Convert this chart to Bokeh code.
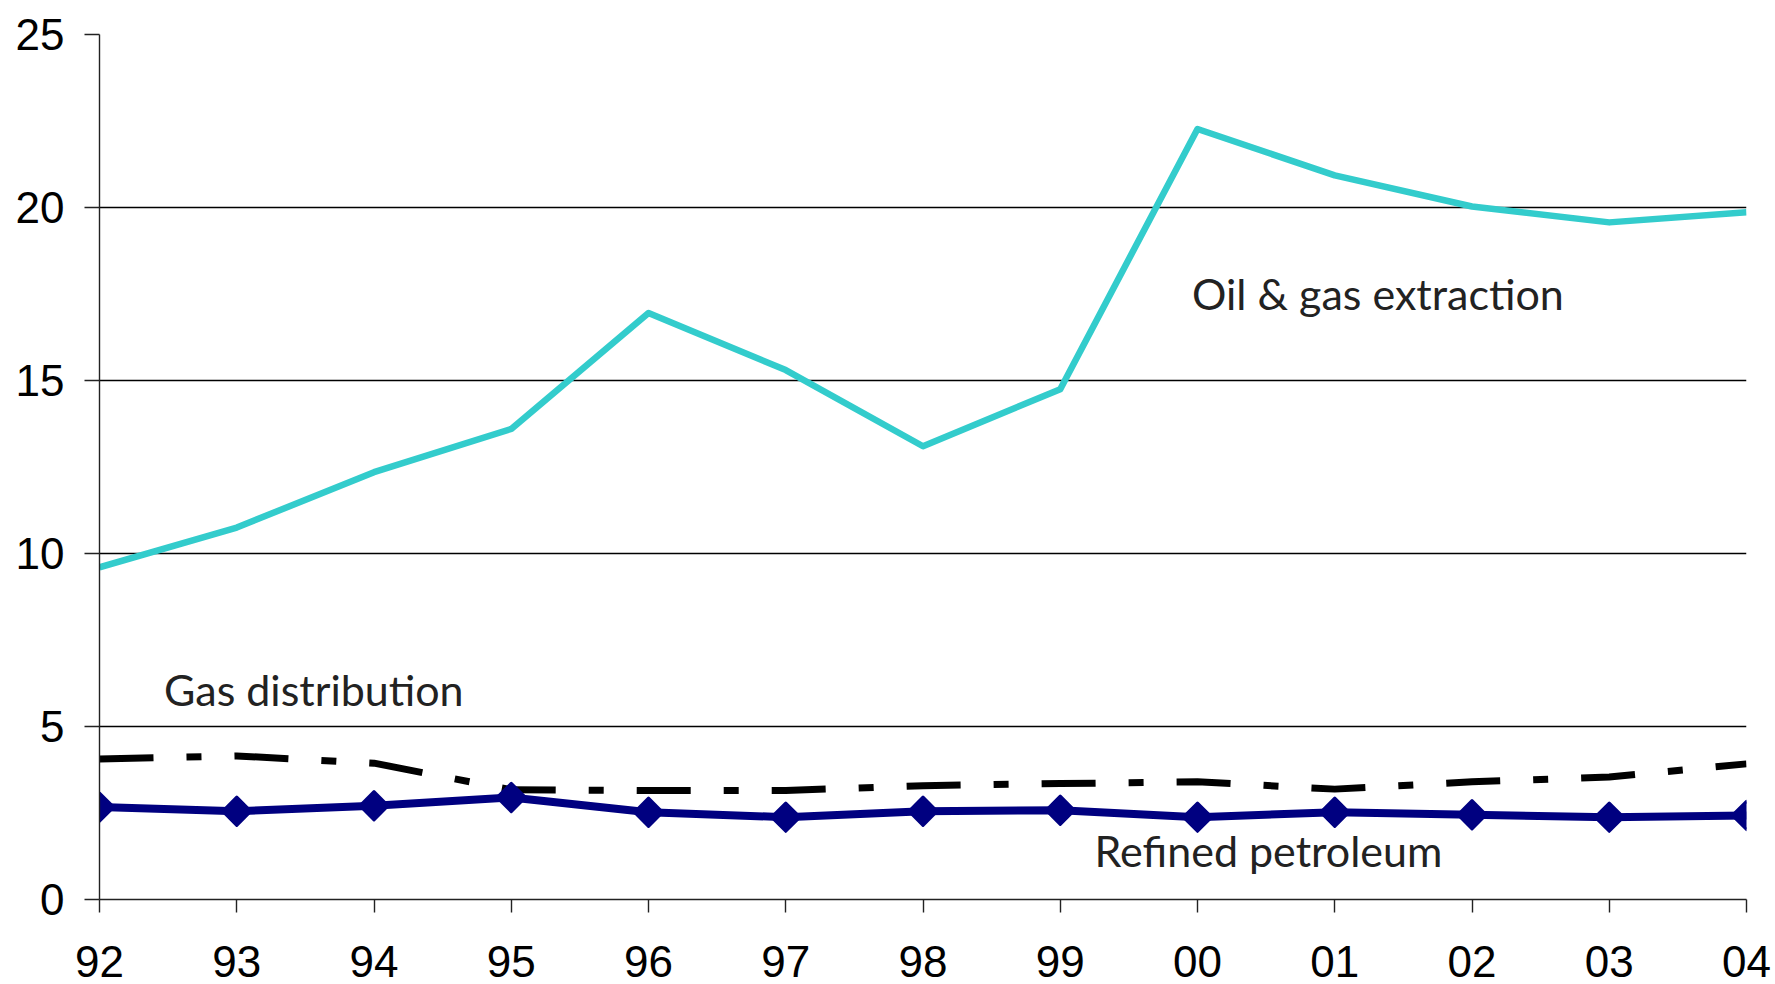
import numpy as np
from bokeh.plotting import figure
from bokeh.models import Range1d, FixedTicker, Label
from bokeh.embed import file_html
from bokeh.resources import INLINE

# ---- data ----
years = [1992, 1993, 1994, 1995, 1996, 1997, 1998, 1999, 2000, 2001, 2002, 2003, 2004]
tick_labels = ["92", "93", "94", "95", "96", "97", "98", "99", "00", "01", "02", "03", "04"]
y_ticks = [0, 5, 10, 15, 20, 25]

oil_gas_extraction = [9.6, 10.75, 12.35, 13.6, 16.95, 15.3, 13.1, 14.75, 22.27, 20.93, 20.03, 19.57, 19.86]
gas_distribution = [4.06, 4.15, 3.94, 3.17, 3.15, 3.15, 3.29, 3.35, 3.40, 3.19, 3.40, 3.54, 3.92]
refined_petroleum = [2.67, 2.55, 2.71, 2.95, 2.52, 2.38, 2.55, 2.58, 2.38, 2.52, 2.45, 2.38, 2.43]

label_names = ["Oil & gas extraction", "Gas distribution", "Refined petroleum"]

# ---- figure ----
p = figure(width=1775, height=984, output_backend="svg", toolbar_location=None,
           x_range=Range1d(1992, 2004), y_range=Range1d(0, 25),
           min_border_left=99, min_border_right=29, min_border_top=34, min_border_bottom=85)
p.outline_line_color = None
p.background_fill_color = "white"
p.border_fill_color = "white"

p.xgrid.visible = False
p.ygrid.grid_line_color = "black"
p.ygrid.grid_line_width = 1.4

p.xaxis.ticker = FixedTicker(ticks=years)
p.xaxis.major_label_overrides = {y: t for y, t in zip(years, tick_labels)}
p.yaxis.ticker = FixedTicker(ticks=y_ticks)

for ax in (p.xaxis[0], p.yaxis[0]):
    ax.axis_line_color = "#222222"
    ax.axis_line_width = 1.4
    ax.major_tick_line_color = "#222222"
    ax.major_tick_line_width = 1.4
    ax.major_tick_in = 0
    ax.minor_tick_line_color = None
    ax.major_label_text_font = "Liberation Sans"
    ax.major_label_text_font_size = "44px"
    ax.major_label_text_color = "black"

p.xaxis.major_tick_out = 13
p.xaxis.major_label_standoff = 33
p.xaxis.major_label_text_line_height = 0.8
p.yaxis.major_tick_out = 15
p.yaxis.major_label_standoff = 20

# ---- series ----
p.line(years, gas_distribution, line_color="black", line_width=7, line_dash="54 33 15 33")
p.line(years, refined_petroleum, line_color="#000080", line_width=8, line_join="round")
p.scatter(years, refined_petroleum, marker="square", angle=np.pi / 4, size=20,
          fill_color="#000080", line_color="#000080", line_width=3, line_join="round")
p.line(years, oil_gas_extraction, line_color="#33CCCC", line_width=6.5, line_join="round")

# ---- series labels ----
label_pos = [(1999.96, 17.52), (1992.47, 6.06), (1999.25, 1.41)]
for name, (lx, ly) in zip(label_names, label_pos):
    p.add_layout(Label(x=lx, y=ly, text=name, text_font="Lato",
                       text_font_size="43px", text_color="#222222",
                       text_align="left", text_baseline="alphabetic"))

open("out.html", "w").write(file_html(p, INLINE))
